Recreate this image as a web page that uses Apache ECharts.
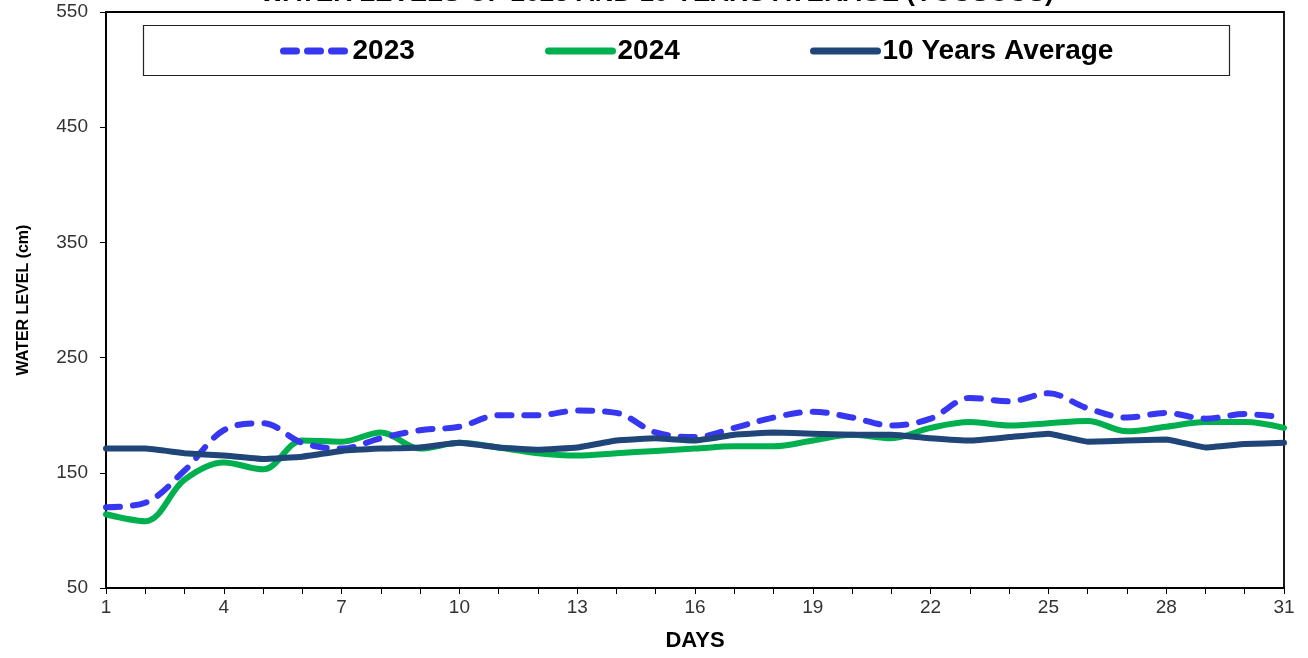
<!DOCTYPE html>
<html><head><meta charset="utf-8">
<script src="https://cdn.jsdelivr.net/npm/echarts@6/dist/echarts.min.js"></script>
<style>html,body{margin:0;padding:0;background:#fff}#c{width:1308px;height:658px}</style>
</head><body><div id="c"></div>
<script>
const days = Array.from({length:31},(_,i)=>String(i+1));
const y2023 = [120,124,152,187,193,176,171,180,187,190,200,200,204,202,185,181,189,198,203,198,191,197,215,212,219,206,198,202,197,201,198];
const y2024 = [114,108,144,159,153,178,177,185,171,176,172,167,165,167,169,171,173,173,178,183,180,189,194,191,193,195,186,190,194,194,189];
const avg10 = [171,171,167,165,162,164,169,171,172,176,172,170,172,178,180,178,183,185,184,183,183,180,178,181,184,177,178,179,172,175,176];
const yTicks = {min:50, max:550, interval:100};

const chart = echarts.init(document.getElementById('c'));
const FONT = 'Liberation Sans, Arial, sans-serif';
function lg(name, left, dashed){
  return {data:[name], left:left, top:32, itemWidth:64, itemHeight:18, itemGap:0,
    itemStyle:{opacity:0},
    lineStyle: dashed ? {width:7, type:[13,11], cap:'round'} : {width:7, cap:'round'},
    textStyle:{fontFamily:FONT, fontWeight:'bold', fontSize:28, color:'#000'}};
}
chart.setOption({
  animation:false,
  title:{text:'WATER LEVELS OF 2023 AND 10 YEARS AVERAGE (YOUSOUS)', left:255, top:-24,
    textStyle:{fontFamily:FONT, fontWeight:'bold', fontSize:26, color:'#000'}},
  graphic:[{type:'rect', shape:{x:143.5,y:25.5,width:1086,height:50}, style:{fill:'none', stroke:'#222', lineWidth:1.2}, z:10}],
  legend:[lg('2023',275,true), lg('2024',540,false), lg('10 Years Average',805,false)],
  grid:{left:106, right:24, top:12, bottom:70, show:true, borderColor:'#000', borderWidth:1.8},
  xAxis:{type:'category', data:days, boundaryGap:false, name:'DAYS', nameLocation:'middle', nameGap:42,
    nameTextStyle:{fontFamily:FONT, fontWeight:'bold', fontSize:22, color:'#000'},
    axisLine:{lineStyle:{color:'#000', width:1.8}},
    axisTick:{interval:0, length:6, lineStyle:{color:'#000'}},
    axisLabel:{interval:2, fontFamily:FONT, fontSize:19, color:'#333', margin:10}},
  yAxis:{type:'value', min:yTicks.min, max:yTicks.max, interval:yTicks.interval,
    name:'WATER LEVEL (cm)', nameLocation:'middle', nameGap:74,
    nameTextStyle:{fontFamily:FONT, fontWeight:'bold', fontSize:16, color:'#000'},
    axisLine:{show:true, lineStyle:{color:'#000', width:1.8}},
    axisTick:{show:true, length:6, lineStyle:{color:'#000'}},
    splitLine:{show:false},
    axisLabel:{fontFamily:FONT, fontSize:19, color:'#333', margin:18}},
  series:[
    {name:'2023', type:'line', data:y2023, smooth:0.35, symbol:'none', z:3,
      lineStyle:{color:'#3737F2', width:6, type:[14,13], cap:'round'}, itemStyle:{color:'#3737F2'}},
    {name:'2024', type:'line', data:y2024, smooth:0.35, symbol:'none', z:2,
      lineStyle:{color:'#00B04F', width:6, cap:'round'}, itemStyle:{color:'#00B04F'}},
    {name:'10 Years Average', type:'line', data:avg10, smooth:0.1, symbol:'none', z:4,
      lineStyle:{color:'#1F4579', width:6, cap:'round'}, itemStyle:{color:'#1F4579'}}
  ]
});
</script></body></html>
